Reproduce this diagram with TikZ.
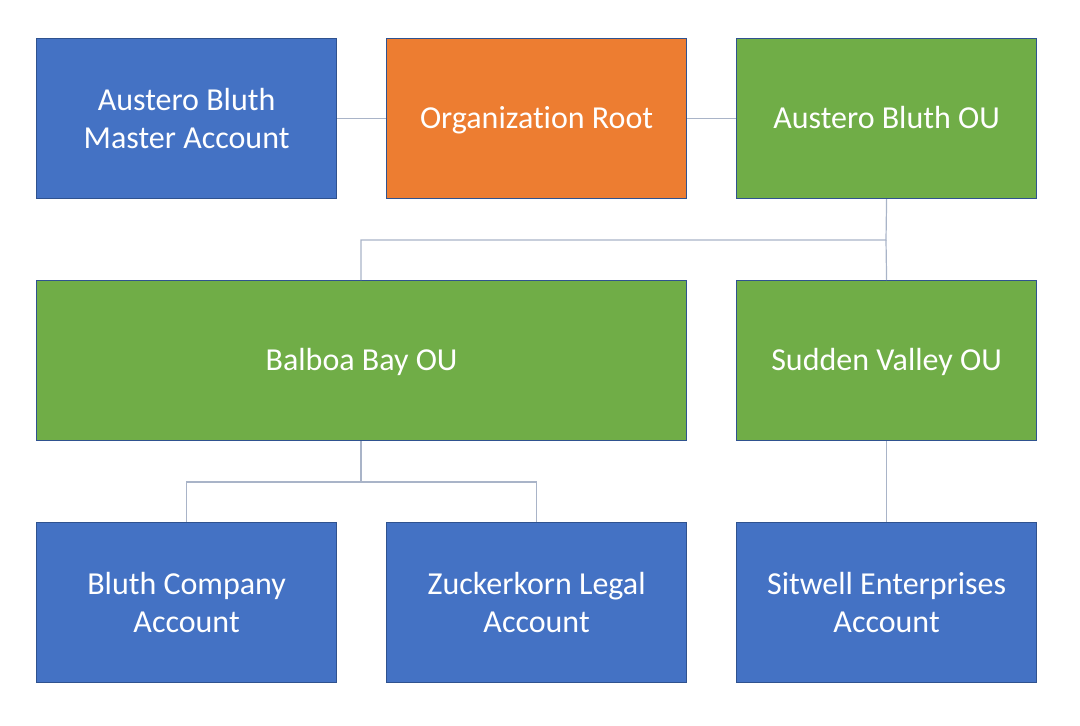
\documentclass[tikz,border=0pt]{standalone}
\usepackage{fontspec}
\setmainfont[RawFeature={-liga;-clig;-calt;-dlig}]{Carlito}
\definecolor{bxblue}{HTML}{4472C4}
\definecolor{bxorange}{HTML}{ED7D31}
\definecolor{bxgreen}{HTML}{70AD47}
\definecolor{bxedge}{HTML}{2F528F}
\definecolor{lnk}{HTML}{A9B4C8}
\begin{document}
\begin{tikzpicture}[x=1pt,y=-1pt,
  box/.style={draw=bxedge,line width=1.2pt,minimum height=160pt,text=white,align=center,
    font=\fontsize{32}{38}\selectfont,inner sep=0pt,anchor=north west},
  small/.style={box,minimum width=300pt},
  wide/.style={box,minimum width=650pt},
  oneline/.style={text height=20pt,text depth=0pt},
  link/.style={draw=lnk,line width=1.2pt}]
\useasboundingbox (0,0) rectangle (1080,726);
\node[small,fill=bxblue] (master) at (36,38) {Austero Bluth\\Master Account};
\node[small,oneline,fill=bxorange] (root) at (386,38) {Organization Root};
\node[small,oneline,fill=bxgreen] (abou) at (736,38) {Austero Bluth OU};
\node[wide,oneline,fill=bxgreen] (balboa) at (36,280) {Balboa Bay OU};
\node[small,oneline,fill=bxgreen] (sudden) at (736,280) {Sudden Valley OU};
\node[small,fill=bxblue] (bluth) at (36,522) {Bluth Company\\Account};
\node[small,fill=bxblue] (zuck) at (386,522) {Zuckerkorn Legal\\Account};
\node[small,fill=bxblue] (sitwell) at (736,522) {Sitwell Enterprises\\Account};
\coordinate (j1) at (886,240);
\coordinate (j2) at (361,482);
\draw[link] (master.east) -- (root.west);
\draw[link] (root.east) -- (abou.west);
\draw[link] (abou.south) -- (j1) -| (balboa.north-|361,0);
\draw[link] (j1) -- (sudden.north);
\draw[link] (balboa.south-|361,0) -- (j2);
\draw[link] (j2) -| (bluth.north);
\draw[link] (j2) -| (zuck.north);
\draw[link] (sudden.south) -- (sitwell.north);
\end{tikzpicture}
\end{document}
